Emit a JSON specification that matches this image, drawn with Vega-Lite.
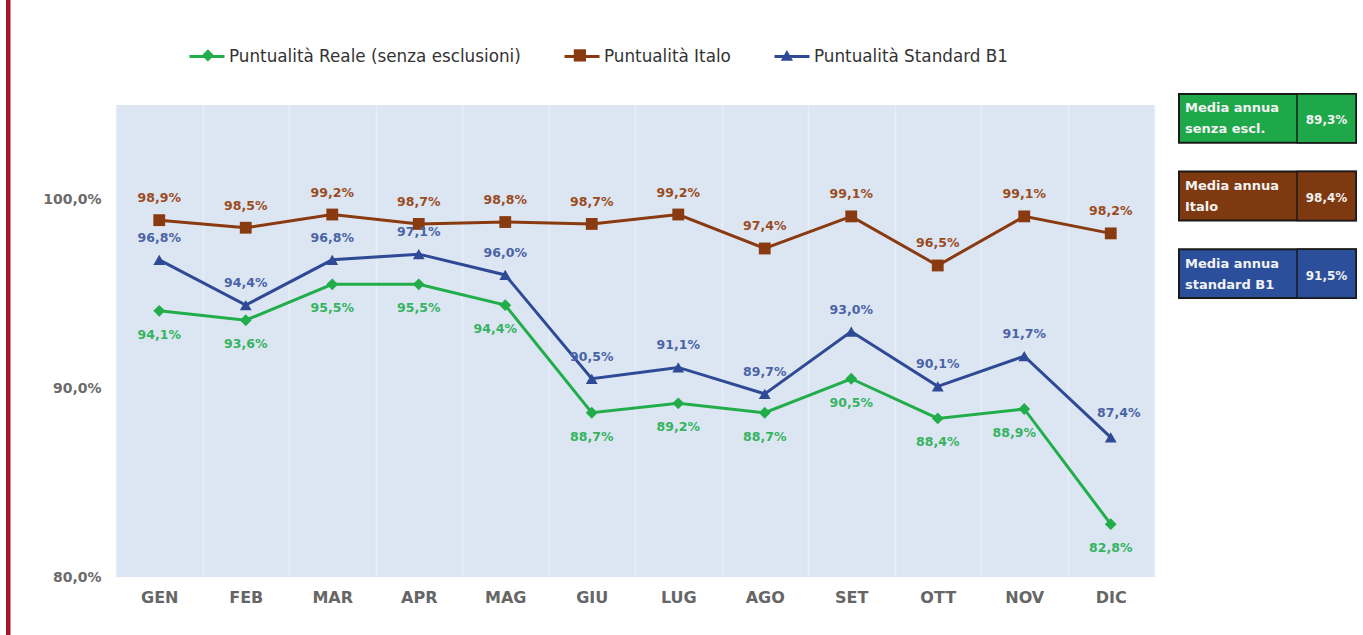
{
  "$schema": "https://vega.github.io/schema/vega-lite/v6.json",
  "background": "white",
  "padding": {"left": 6, "top": 0, "right": 0, "bottom": 0},
  "spacing": 24,
  "config": {
    "locale": {"number": {"decimal": ",", "thousands": ".", "grouping": [3], "currency": ["€", ""]}},
    "view": {"stroke": null},
    "font": "DejaVu Sans"
  },
  "datasets": {
    "bordo": [{"k": 1}],
    "mensile": [
      {"mese": "GEN", "serie": "Puntualità Reale (senza esclusioni)", "valore": 0.941},
      {"mese": "FEB", "serie": "Puntualità Reale (senza esclusioni)", "valore": 0.936},
      {"mese": "MAR", "serie": "Puntualità Reale (senza esclusioni)", "valore": 0.955},
      {"mese": "APR", "serie": "Puntualità Reale (senza esclusioni)", "valore": 0.955},
      {"mese": "MAG", "serie": "Puntualità Reale (senza esclusioni)", "valore": 0.944},
      {"mese": "GIU", "serie": "Puntualità Reale (senza esclusioni)", "valore": 0.887},
      {"mese": "LUG", "serie": "Puntualità Reale (senza esclusioni)", "valore": 0.892},
      {"mese": "AGO", "serie": "Puntualità Reale (senza esclusioni)", "valore": 0.887},
      {"mese": "SET", "serie": "Puntualità Reale (senza esclusioni)", "valore": 0.905},
      {"mese": "OTT", "serie": "Puntualità Reale (senza esclusioni)", "valore": 0.884},
      {"mese": "NOV", "serie": "Puntualità Reale (senza esclusioni)", "valore": 0.889},
      {"mese": "DIC", "serie": "Puntualità Reale (senza esclusioni)", "valore": 0.828},
      {"mese": "GEN", "serie": "Puntualità Italo", "valore": 0.989},
      {"mese": "FEB", "serie": "Puntualità Italo", "valore": 0.985},
      {"mese": "MAR", "serie": "Puntualità Italo", "valore": 0.992},
      {"mese": "APR", "serie": "Puntualità Italo", "valore": 0.987},
      {"mese": "MAG", "serie": "Puntualità Italo", "valore": 0.988},
      {"mese": "GIU", "serie": "Puntualità Italo", "valore": 0.987},
      {"mese": "LUG", "serie": "Puntualità Italo", "valore": 0.992},
      {"mese": "AGO", "serie": "Puntualità Italo", "valore": 0.974},
      {"mese": "SET", "serie": "Puntualità Italo", "valore": 0.991},
      {"mese": "OTT", "serie": "Puntualità Italo", "valore": 0.965},
      {"mese": "NOV", "serie": "Puntualità Italo", "valore": 0.991},
      {"mese": "DIC", "serie": "Puntualità Italo", "valore": 0.982},
      {"mese": "GEN", "serie": "Puntualità Standard B1", "valore": 0.968},
      {"mese": "FEB", "serie": "Puntualità Standard B1", "valore": 0.944},
      {"mese": "MAR", "serie": "Puntualità Standard B1", "valore": 0.968},
      {"mese": "APR", "serie": "Puntualità Standard B1", "valore": 0.971},
      {"mese": "MAG", "serie": "Puntualità Standard B1", "valore": 0.960},
      {"mese": "GIU", "serie": "Puntualità Standard B1", "valore": 0.905},
      {"mese": "LUG", "serie": "Puntualità Standard B1", "valore": 0.911},
      {"mese": "AGO", "serie": "Puntualità Standard B1", "valore": 0.897},
      {"mese": "SET", "serie": "Puntualità Standard B1", "valore": 0.930},
      {"mese": "OTT", "serie": "Puntualità Standard B1", "valore": 0.901},
      {"mese": "NOV", "serie": "Puntualità Standard B1", "valore": 0.917},
      {"mese": "DIC", "serie": "Puntualità Standard B1", "valore": 0.874}
    ],
    "annuale": [
      {"voce": "Media annua\nsenza escl.", "serie": "Reale", "valore": 0.893},
      {"voce": "Media annua\nItalo", "serie": "Italo", "valore": 0.984},
      {"voce": "Media annua\nstandard B1", "serie": "Standard", "valore": 0.915}
    ]
  },
  "resolve": {
    "scale": {"color": "independent", "fill": "independent", "shape": "independent", "x": "independent", "y": "independent"},
    "legend": {"color": "independent", "fill": "independent", "shape": "independent"}
  },
  "hconcat": [
    {
      "width": 12,
      "height": 472,
      "data": {"name": "bordo"},
      "mark": {"type": "rect", "color": "#a5122d"},
      "encoding": {
        "x": {"datum": 0, "type": "quantitative", "scale": {"domain": [0, 12], "nice": false, "zero": false}, "axis": null},
        "x2": {"datum": 4.5},
        "y": {"datum": 0, "type": "quantitative", "scale": {"domain": [0, 1], "range": [530, -105], "nice": false, "zero": false}, "axis": null},
        "y2": {"datum": 1}
      }
    },
    {
      "width": 1038,
      "height": 472,
      "data": {"name": "mensile"},
      "view": {"fill": "#dce6f2", "stroke": null},
      "encoding": {
        "x": {
          "field": "mese", "type": "nominal",
          "sort": ["GEN", "FEB", "MAR", "APR", "MAG", "GIU", "LUG", "AGO", "SET", "OTT", "NOV", "DIC"],
          "scale": {"type": "band", "paddingInner": 0, "paddingOuter": 0},
          "axis": {
            "title": null, "labelAngle": 0, "domain": false, "ticks": false, "tickSize": 0,
            "grid": true, "tickBand": "extent", "gridColor": "#e8eef7", "gridWidth": 1.5,
            "labelPadding": 12, "labelFont": "DejaVu Sans", "labelFontWeight": "bold",
            "labelFontSize": 16, "labelColor": "#666666"
          }
        },
        "y": {
          "field": "valore", "type": "quantitative",
          "scale": {"domain": [0.8, 1.05], "nice": false, "zero": false},
          "axis": {
            "title": null, "values": [0.8, 0.9, 1.0], "format": ".1%", "domain": false,
            "ticks": false, "tickSize": 0, "grid": false, "labelPadding": 15,
            "labelFont": "DejaVu Sans", "labelFontWeight": "bold", "labelFontSize": 14,
            "labelColor": "#6b6b6b"
          }
        }
      },
      "layer": [
        {
          "mark": {"type": "line", "strokeWidth": 3},
          "encoding": {
            "color": {
              "field": "serie", "type": "nominal",
              "sort": ["Puntualità Reale (senza esclusioni)", "Puntualità Italo", "Puntualità Standard B1"],
              "scale": {"range": ["#22ad4b", "#8a3a10", "#2e4a96"]},
              "legend": {
                "title": null, "orient": "none", "legendX": 34.5, "legendY": -105, "padding": 37.5,
                "direction": "horizontal", "symbolType": "stroke", "symbolSize": 1225, "symbolStrokeWidth": 3,
                "labelFont": "DejaVu Sans", "labelFontSize": 16.8, "labelColor": "#333333",
                "labelLimit": 500, "labelOffset": 3, "columnPadding": 37
              }
            }
          }
        },
        {
          "mark": {"type": "point", "filled": true, "size": 140, "opacity": 1, "strokeWidth": 0},
          "encoding": {
            "fill": {
              "field": "serie", "type": "nominal",
              "scale": {
                "domain": ["Puntualità Reale (senza esclusioni)", "Puntualità Italo", "Puntualità Standard B1"],
                "range": ["#22ad4b", "#8a3a10", "#2e4a96"]
              },
              "legend": {
                "title": null, "orient": "none", "legendX": 83.5, "legendY": -58.4, "padding": 0,
                "direction": "horizontal", "symbolSize": 150, "symbolStrokeWidth": 0,
                "labelFont": "DejaVu Sans", "labelFontSize": 16.8, "labelColor": "#333333", "labelOpacity": 0,
                "labelLimit": 500, "labelOffset": 26, "columnPadding": 37
              }
            },
            "shape": {
              "field": "serie", "type": "nominal",
              "scale": {
                "domain": ["Puntualità Reale (senza esclusioni)", "Puntualità Italo", "Puntualità Standard B1"],
                "range": ["diamond", "square", "triangle-up"]
              },
              "legend": {
                "title": null, "orient": "none", "legendX": 83.5, "legendY": -58.4, "padding": 0,
                "direction": "horizontal", "symbolSize": 150, "symbolStrokeWidth": 0,
                "labelFont": "DejaVu Sans", "labelFontSize": 16.8, "labelColor": "#333333", "labelOpacity": 0,
                "labelLimit": 500, "labelOffset": 26, "columnPadding": 37
              }
            }
          }
        },
        {
          "transform": [{"filter": "datum.serie === 'Puntualità Italo'"}],
          "mark": {"type": "text", "dy": -22, "font": "DejaVu Sans", "fontWeight": "bold", "fontSize": 12.5, "color": "#9a4b22"},
          "encoding": {"text": {"field": "valore", "type": "quantitative", "format": ".1%"}}
        },
        {
          "transform": [{"filter": "datum.serie === 'Puntualità Standard B1' && datum.mese !== 'DIC'"}],
          "mark": {"type": "text", "dy": -22, "font": "DejaVu Sans", "fontWeight": "bold", "fontSize": 12.5, "color": "#4a63a6"},
          "encoding": {"text": {"field": "valore", "type": "quantitative", "format": ".1%"}}
        },
        {
          "transform": [{"filter": "datum.serie === 'Puntualità Standard B1' && datum.mese === 'DIC'"}],
          "mark": {"type": "text", "dy": -24, "dx": 8, "font": "DejaVu Sans", "fontWeight": "bold", "fontSize": 12.5, "color": "#4a63a6"},
          "encoding": {"text": {"field": "valore", "type": "quantitative", "format": ".1%"}}
        },
        {
          "transform": [{"filter": "datum.serie === 'Puntualità Reale (senza esclusioni)' && datum.mese !== 'MAG' && datum.mese !== 'NOV'"}],
          "mark": {"type": "text", "dy": 24, "font": "DejaVu Sans", "fontWeight": "bold", "fontSize": 12.5, "color": "#35b360"},
          "encoding": {"text": {"field": "valore", "type": "quantitative", "format": ".1%"}}
        },
        {
          "transform": [{"filter": "datum.serie === 'Puntualità Reale (senza esclusioni)' && (datum.mese === 'MAG' || datum.mese === 'NOV')"}],
          "mark": {"type": "text", "dy": 24, "dx": -10, "font": "DejaVu Sans", "fontWeight": "bold", "fontSize": 12.5, "color": "#35b360"},
          "encoding": {"text": {"field": "valore", "type": "quantitative", "format": ".1%"}}
        }
      ]
    },
    {
      "width": 177,
      "height": 472,
      "data": {"name": "annuale"},
      "encoding": {
        "y": {
          "field": "voce", "type": "nominal", "sort": null,
          "scale": {"type": "band", "range": [-11, 193], "paddingInner": 0.37, "paddingOuter": 0},
          "axis": null
        }
      },
      "layer": [
        {
          "mark": {"type": "rect", "stroke": "#1a1a1a", "strokeWidth": 2},
          "encoding": {
            "x": {"datum": 0, "type": "quantitative", "scale": {"domain": [0, 3], "nice": false, "zero": false}, "axis": null},
            "x2": {"datum": 3},
            "color": {
              "field": "serie", "type": "nominal",
              "scale": {"domain": ["Reale", "Italo", "Standard"], "range": ["#1fa84a", "#7e3910", "#2b4f9b"]},
              "legend": null
            }
          }
        },
        {
          "mark": {"type": "rect", "stroke": "#1a1a1a", "strokeWidth": 1.5},
          "encoding": {
            "x": {"datum": 2, "type": "quantitative"},
            "x2": {"datum": 3},
            "color": {"field": "serie", "type": "nominal", "legend": null}
          }
        },
        {
          "mark": {"type": "text", "align": "left", "dx": 6, "dy": -10, "lineBreak": "\n", "lineHeight": 21, "font": "DejaVu Sans", "fontWeight": "bold", "fontSize": 13, "color": "#f2f2f2"},
          "encoding": {
            "x": {"datum": 0, "type": "quantitative"},
            "text": {"field": "voce", "type": "nominal"}
          }
        },
        {
          "mark": {"type": "text", "align": "center", "dy": 2, "font": "DejaVu Sans", "fontWeight": "bold", "fontSize": 12, "color": "#f2f2f2"},
          "encoding": {
            "x": {"datum": 2.5, "type": "quantitative"},
            "text": {"field": "valore", "type": "quantitative", "format": ".1%"}
          }
        }
      ]
    }
  ]
}
